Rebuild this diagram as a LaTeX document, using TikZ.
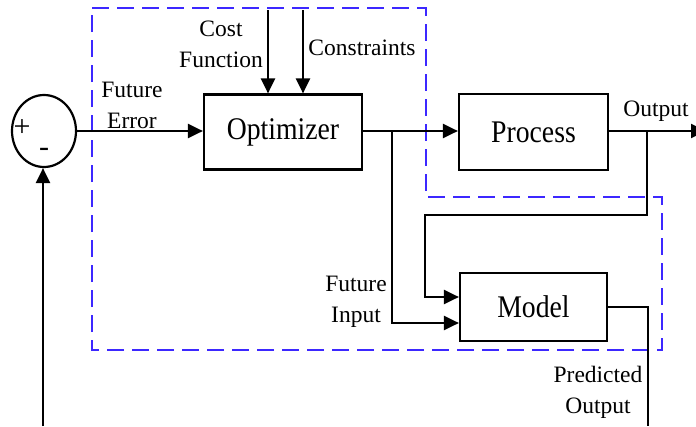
\documentclass[tikz,border=0pt]{standalone}
\usepackage{fontspec}
\setmainfont{Liberation Serif}
\usetikzlibrary{arrows.meta,shapes.geometric}
\definecolor{frameblue}{RGB}{60,40,255}
% narrow setting for the block captions
\newcommand{\narrow}[1]{\scalebox{0.88}[1]{#1}}
\tikzset{
  wire/.style={line width=2.2pt,black},
  arr/.style={wire,-{Triangle[length=15pt,width=14pt]}},
  block/.style={draw,line width=2.2pt,rectangle,inner sep=0pt,
    font=\fontsize{31.5}{34}\selectfont},
  lbl/.style={align=center,inner sep=0pt,font=\fontsize{23.5}{31}\selectfont},
  frame/.style={draw=frameblue,line width=2.6pt,dash pattern=on 17pt off 8pt}
}
\begin{document}
\begin{tikzpicture}[x=1pt,y=-1pt]
\useasboundingbox (0,0) rectangle (696,426);

% controller region
\draw[frame] (92,8) -- (426,8) -- (426,197) -- (662,197) -- (662,350) -- (92,350) -- cycle;

% blocks
\node[draw,line width=2.2pt,ellipse,minimum width=64pt,minimum height=72pt,inner sep=0pt] (sum) at (44,131) {};
\node[block,minimum width=158pt,minimum height=75pt] (opt) at (283,132) {\narrow{Optimizer}};
\node[block,minimum width=149pt,minimum height=76pt] (proc) at (533.5,132) {\narrow{Process}};
\node[block,minimum width=147pt,minimum height=68pt] (model) at (533.5,307) {\narrow{Model}};

% summing junction signs
\node[inner sep=0pt,font=\fontsize{30}{30}\selectfont] (plus) at (22,128) {+};
\node[inner sep=0pt,font=\fontsize{30}{30}\selectfont] (minus) at (44,152) {-};

% coordinates
\coordinate (c1) at (268,10);
\coordinate (c2) at (303,10);
\coordinate (s1) at (392,131);
\coordinate (s2) at (647,131);
\coordinate (outR) at (706,131);
\coordinate (fb1) at (647,215);
\coordinate (fb2) at (425,215);
\coordinate (botR) at (648,426);
\coordinate (botL) at (43,426);

% connectors
\draw[arr] (sum.east |- 0,131) -- (opt.west |- 0,131);
\draw[arr] (c1) -- (c1 |- opt.north);
\draw[arr] (c2) -- (c2 |- opt.north);
\draw[arr] (opt.east |- 0,131) -- (proc.west |- 0,131);
\draw[arr] (proc.east |- 0,131) -- (outR);
\draw[arr] (s1) |- ([yshift=-16pt]model.west);
\draw[arr] (s2) -- (fb1) -- (fb2) |- ([yshift=10pt]model.west);
\draw[wire] (model.east) -| (botR);
\draw[arr] (botL) -- (sum.south -| botL);

% labels
\node[lbl] (lerr) at (132,105) {Future\\Error};
\node[lbl] (lcost) at (221,44) {Cost\\Function};
\node[lbl] (lcons) at (362,48) {Constraints};
\node[lbl] (lout) at (656,111) {Output};
\node[lbl] (lin) at (356,302) {Future\\Input};
\node[lbl] (lpred) at (598,392) {Predicted\\Output};
\end{tikzpicture}
\end{document}
